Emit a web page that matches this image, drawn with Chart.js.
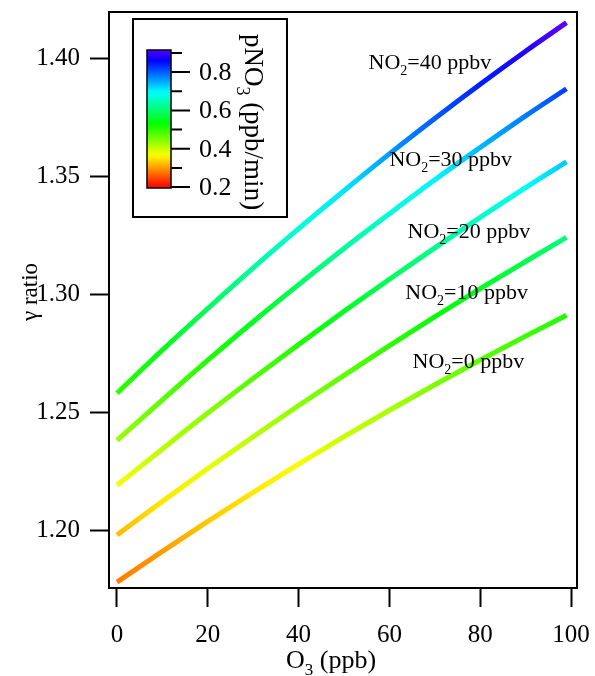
<!DOCTYPE html>
<html><head><meta charset="utf-8">
<script src="https://cdn.jsdelivr.net/npm/chart.js@4/dist/chart.umd.min.js"></script>
<style>html,body{margin:0;padding:0;background:#fff;}#wrap{width:595px;height:676px;position:relative;}</style>
</head><body><div id="wrap"><canvas id="c" width="595" height="676"></canvas></div>
<script>
// ---- data ----
const o3 = [0,10,20,30,40,50,60,70,80,90,99];
const no2Levels = [0,10,20,30,40];
const gammaNO2_0  = [1.178,1.191,1.2037,1.216,1.228,1.2396,1.2508,1.2616,1.2721,1.2822,1.291];
const gammaNO2_10 = [1.198,1.2122,1.2261,1.2396,1.2528,1.2656,1.2782,1.2904,1.3023,1.3138,1.324];
const gammaNO2_20 = [1.219,1.2344,1.2496,1.2643,1.2787,1.2927,1.3063,1.3196,1.3325,1.3451,1.356];
const gammaNO2_30 = [1.238,1.2552,1.272,1.2883,1.304,1.3193,1.334,1.3484,1.3621,1.3755,1.387];
const gammaNO2_40 = [1.258,1.2763,1.2939,1.3111,1.3277,1.3438,1.3594,1.3744,1.3889,1.4029,1.415];
const pNO3_0  = [0.28,0.30,0.33,0.35,0.37,0.40,0.42,0.45,0.47,0.49,0.51];
const pNO3_10 = [0.32,0.35,0.38,0.41,0.44,0.47,0.50,0.53,0.55,0.58,0.61];
const pNO3_20 = [0.37,0.41,0.44,0.48,0.51,0.55,0.59,0.62,0.66,0.69,0.73];
const pNO3_30 = [0.43,0.47,0.51,0.55,0.59,0.63,0.67,0.70,0.74,0.78,0.82];
const pNO3_40 = [0.50,0.54,0.59,0.63,0.67,0.71,0.76,0.80,0.84,0.88,0.92];
const labelO3    = [65.1, 63.5, 64.0, 60.0, 55.4];
const labelGamma = [1.2689, 1.2981, 1.3239, 1.3543, 1.3953];
const xTicks = [0,20,40,60,80,100];
const yTicks = [1.20,1.25,1.30,1.35,1.40];
const cbTicks = [0.2,0.4,0.6,0.8];
const cbMinor = [0.3,0.5,0.7,0.9];
const cbRange = [0.195, 0.915];

const gammaSeries = [gammaNO2_0,gammaNO2_10,gammaNO2_20,gammaNO2_30,gammaNO2_40];
const pSeries = [pNO3_0,pNO3_10,pNO3_20,pNO3_30,pNO3_40];

const SERIF = "'Liberation Serif','Times New Roman',serif";

function cmap(v){
  const h = Math.max(0, Math.min(270, 364*(v-0.2)));
  return 'hsl(' + h.toFixed(1) + ',100%,50%)';
}

function lineGradient(context, pvals){
  const chart = context.chart;
  const area = chart.chartArea;
  if (!area) return '#0f0';
  const xs = chart.scales.x;
  const x0 = xs.getPixelForValue(o3[0]);
  const x1 = xs.getPixelForValue(o3[o3.length-1]);
  const g = chart.ctx.createLinearGradient(x0,0,x1,0);
  o3.forEach((x,i)=>{
    g.addColorStop(Math.min(1,Math.max(0,(xs.getPixelForValue(x)-x0)/(x1-x0))), cmap(pvals[i]));
  });
  return g;
}

function richWidth(ctx, parts, size){
  let w=0;
  parts.forEach(p=>{
    ctx.font = (p.sub? Math.round(size*0.65):size) + 'px ' + SERIF;
    w += ctx.measureText(p.t).width;
  });
  return w;
}
function drawRich(ctx, parts, x, y, size, align){
  const w = richWidth(ctx, parts, size);
  let cx = align==='center' ? x - w/2 : x;
  ctx.textAlign='left';
  ctx.textBaseline='alphabetic';
  parts.forEach(p=>{
    const s = p.sub? Math.round(size*0.65):size;
    ctx.font = s + 'px ' + SERIF;
    ctx.fillText(p.t, cx, p.sub? y + size*0.28 : y);
    cx += ctx.measureText(p.t).width;
  });
}

const decor = {
  id:'decor',
  afterDatasetsDraw(chart){
    const ctx = chart.ctx, a = chart.chartArea;
    const xs = chart.scales.x, ys = chart.scales.y;
    ctx.save();
    ctx.fillStyle='#000';
    no2Levels.forEach((lv,i)=>{
      drawRich(ctx,[{t:'NO'},{t:'2',sub:true},{t:'='+lv+' ppbv'}],
        xs.getPixelForValue(labelO3[i]), ys.getPixelForValue(labelGamma[i]), 22, 'left');
    });
    ctx.strokeStyle='#000'; ctx.lineWidth=2;
    ctx.strokeRect(a.left, a.top, a.right-a.left, a.bottom-a.top);
    // colorbar
    const bx=133, by=19, bw=154, bh=198;
    ctx.fillStyle='#fff'; ctx.fillRect(bx,by,bw,bh);
    ctx.strokeRect(bx,by,bw,bh);
    const cx0=147, cx1=171, cyTop=50, cyBot=188;
    const cy = v => cyBot - (v-cbRange[0])/(cbRange[1]-cbRange[0])*(cyBot-cyTop);
    const g = ctx.createLinearGradient(0,cyBot,0,cyTop);
    for(let k=0;k<=40;k++){
      const v = cbRange[0] + (cbRange[1]-cbRange[0])*k/40;
      g.addColorStop(k/40, cmap(v));
    }
    ctx.fillStyle=g; ctx.fillRect(cx0,cyTop,cx1-cx0,cyBot-cyTop);
    ctx.lineWidth=1.5; ctx.strokeRect(cx0,cyTop,cx1-cx0,cyBot-cyTop);
    ctx.lineWidth=2; ctx.beginPath();
    cbTicks.forEach(v=>{ctx.moveTo(cx1,cy(v)); ctx.lineTo(cx1+19,cy(v));});
    cbMinor.forEach(v=>{ctx.moveTo(cx1,cy(v)); ctx.lineTo(cx1+11,cy(v));});
    ctx.stroke();
    ctx.fillStyle='#000';
    ctx.font='26px '+SERIF; ctx.textAlign='left'; ctx.textBaseline='middle';
    cbTicks.forEach(v=>ctx.fillText(v.toFixed(1), 199, cy(v)+1));
    ctx.save();
    ctx.translate(245, 122); ctx.rotate(Math.PI/2);
    drawRich(ctx,[{t:'pNO'},{t:'3',sub:true},{t:' (ppb/min)'}], 0, 0, 27, 'center');
    ctx.restore();
    // axis titles
    drawRich(ctx,[{t:'O'},{t:'3',sub:true},{t:' (ppb)'}], 331, 668, 26, 'center');
    ctx.save();
    ctx.translate(37, 292); ctx.rotate(-Math.PI/2);
    ctx.font='23px '+SERIF; ctx.textAlign='center'; ctx.textBaseline='alphabetic';
    ctx.fillText('\u03B3 ratio',0,0);
    ctx.restore();
    ctx.restore();
  }
};

const datasets = gammaSeries.map((g,i)=>({
  label:'NO2='+no2Levels[i]+' ppbv',
  data: o3.map((x,j)=>({x:x,y:g[j]})),
  borderColor: ctx => lineGradient(ctx, pSeries[i]),
  borderWidth:5,
  pointRadius:0,
  cubicInterpolationMode:'monotone',
  fill:false
}));

new Chart(document.getElementById('c'),{
  type:'line',
  data:{datasets},
  options:{
    responsive:false, animation:false, devicePixelRatio:1,
    layout:{padding:{top:12,right:18,left:0,bottom:0}},
    plugins:{legend:{display:false},tooltip:{enabled:false}},
    scales:{
      x:{type:'linear', min:-1.76, max:101.32,
        afterBuildTicks: s => { s.ticks = xTicks.map(v=>({value:v})); },
        afterFit: s => { s.height = 88; s.paddingLeft = 0; s.paddingRight = 0; },
        grid:{drawOnChartArea:false, drawTicks:true, tickLength:19, tickWidth:2, tickColor:'#000'},
        border:{display:true, color:'#000', width:2},
        ticks:{color:'#000', font:{family:SERIF,size:25}, padding:13, maxRotation:0, autoSkip:false}
      },
      y:{type:'linear', min:1.1755, max:1.4195,
        afterBuildTicks: s => { s.ticks = yTicks.map(v=>({value:v})); },
        afterFit: s => { s.width = 109; s.paddingTop = 0; s.paddingBottom = 0; },
        grid:{drawOnChartArea:false, drawTicks:true, tickLength:19, tickWidth:2, tickColor:'#000'},
        border:{display:true, color:'#000', width:2},
        ticks:{color:'#000', font:{family:SERIF,size:25}, padding:10, autoSkip:false,
          callback: v => Number(v).toFixed(2)}
      }
    }
  },
  plugins:[decor]
});
</script></body></html>
